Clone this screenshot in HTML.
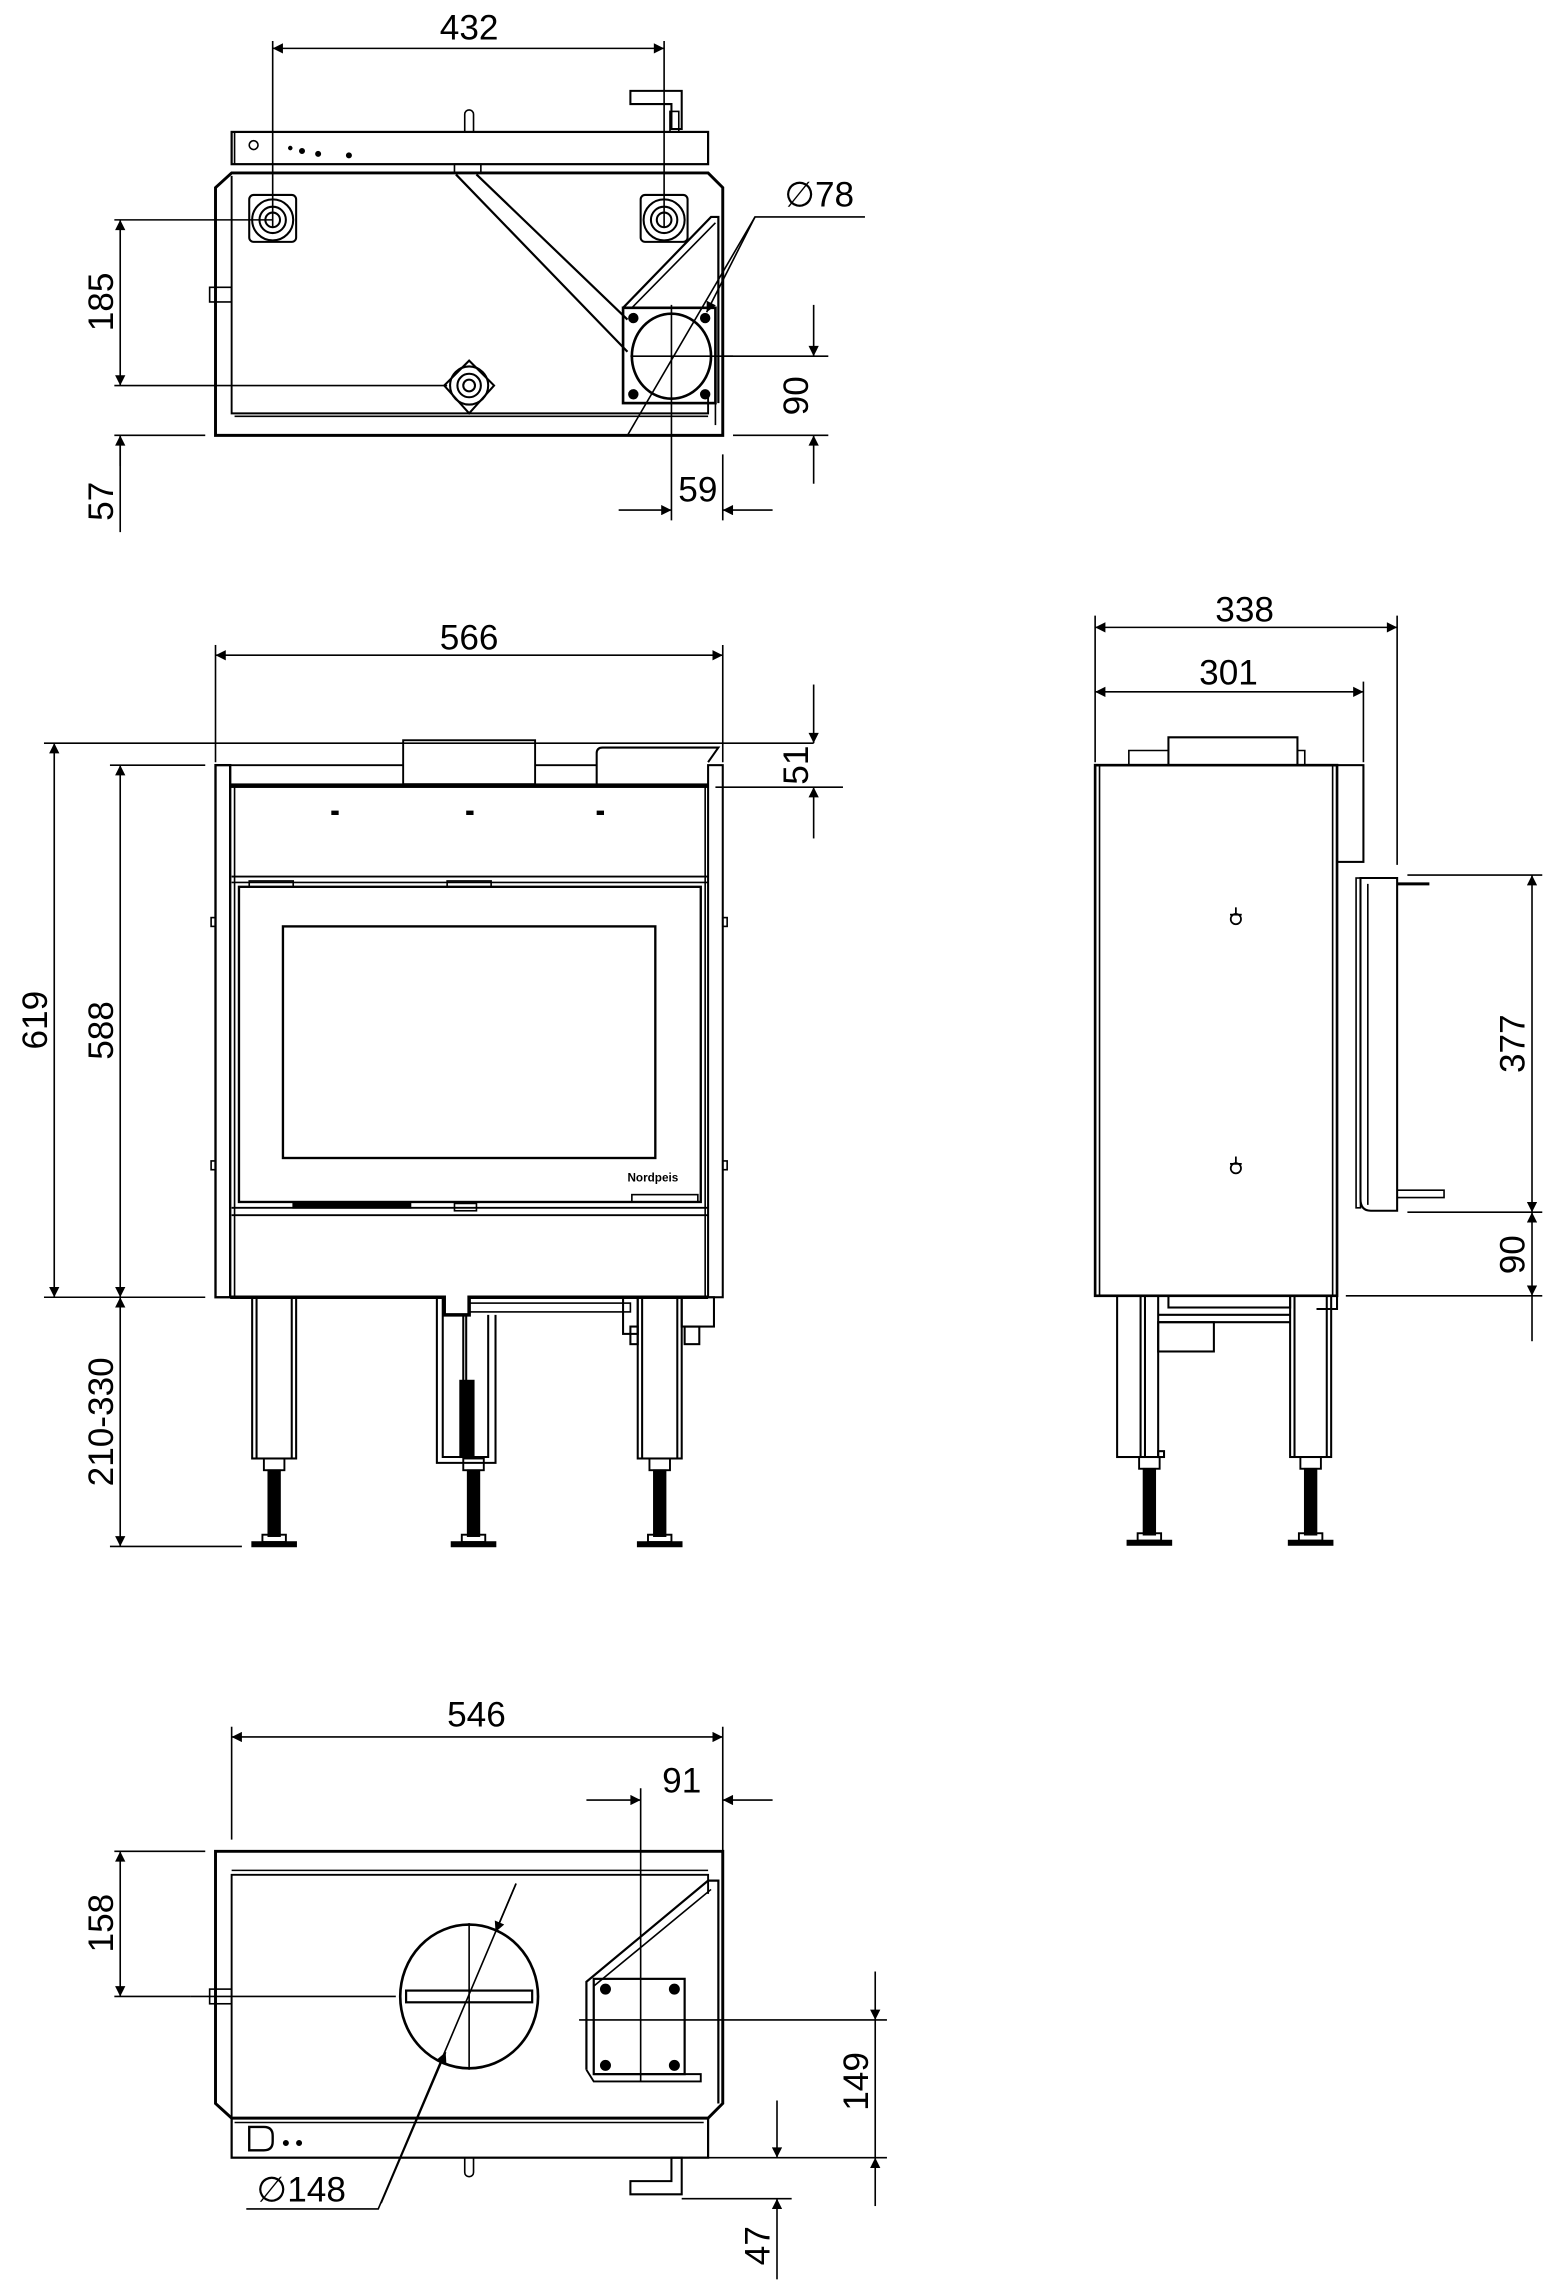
<!DOCTYPE html>
<html><head><meta charset="utf-8"><style>
html,body{margin:0;padding:0;background:#fff;}
svg{display:block;}
text{font-family:"Liberation Sans Narrow","Liberation Sans",sans-serif;font-size:24px;fill:#000;}
</style></head><body>
<svg width="1554" height="2294" viewBox="0 0 1060 1565" preserveAspectRatio="none" xmlns="http://www.w3.org/2000/svg">
<defs>
<marker id="a" viewBox="0 0 10 10" refX="10" refY="5" markerWidth="16" markerHeight="7" markerUnits="userSpaceOnUse" orient="auto-start-reverse"><path d="M0,0 L10,5 L0,10 z" fill="#000"/></marker>
</defs>
<g stroke="#000" fill="none" stroke-width="1.1">
<!-- ================= TOP VIEW ================= -->
<line x1="186" y1="28" x2="186" y2="155"/><line x1="453" y1="28" x2="453" y2="155"/>
<line x1="186" y1="33" x2="453" y2="33" marker-start="url(#a)" marker-end="url(#a)"/>
<rect x="158" y="90" width="325" height="22" stroke-width="1.5"/>
<line x1="160" y1="112" x2="160" y2="90"/>
<path d="M317,90 V78 a3,3 0 0 1 6,0 V90"/>
<path d="M430,62 H465 V88 H458 V71 H430 Z" stroke-width="1.4"/>
<rect x="457" y="76" width="6" height="14"/>
<circle cx="173" cy="99" r="3"/>
<circle cx="198" cy="101" r="1" fill="#000"/><circle cx="206" cy="103" r="1.5" fill="#000"/><circle cx="217" cy="105" r="1.5" fill="#000"/><circle cx="238" cy="106" r="1.5" fill="#000"/>
<rect x="310" y="112" width="18" height="6"/>
<path d="M147,297 V128 L158,118 H483 L493,128 V297 Z" stroke-width="2"/>
<path d="M158,120 V282 H483 V270" stroke-width="1.3"/>
<line x1="160" y1="284" x2="483" y2="284"/>
<rect x="143" y="196" width="15" height="10"/>
<g stroke-width="1.4">
<rect x="170" y="133" width="32" height="32" rx="3"/>
<circle cx="186" cy="150" r="14"/><circle cx="186" cy="150" r="9"/><circle cx="186" cy="150" r="5"/>
<rect x="437" y="133" width="32" height="32" rx="3"/>
<circle cx="453" cy="150" r="14"/><circle cx="453" cy="150" r="9"/><circle cx="453" cy="150" r="5"/>
<path d="M303,263 L320,246 L337,263 L320,282 Z"/>
<circle cx="320" cy="263" r="13"/><circle cx="320" cy="263" r="8"/><circle cx="320" cy="263" r="4"/>
</g>
<path d="M311,119 L428,240" stroke-width="1.5"/><path d="M325,119 L428,218" stroke-width="1.5"/>
<rect x="425" y="210" width="63" height="65" stroke-width="1.8"/>
<path d="M425,210 L485,148 H490 V275" stroke-width="1.5"/>
<path d="M431,210 L488,152"/>
<ellipse cx="458" cy="243" rx="27" ry="29" stroke-width="1.8"/>
<circle cx="432" cy="217" r="3" fill="#000"/><circle cx="481" cy="217" r="3" fill="#000"/><circle cx="432" cy="269" r="3" fill="#000"/><circle cx="481" cy="269" r="3" fill="#000"/>
<line x1="458" y1="208" x2="458" y2="355"/>
<line x1="430" y1="243" x2="500" y2="243"/>
<line x1="488" y1="275" x2="488" y2="290"/>
<line x1="78" y1="150" x2="186" y2="150"/><line x1="78" y1="263" x2="305" y2="263"/>
<line x1="78" y1="297" x2="140" y2="297"/>
<line x1="82" y1="150" x2="82" y2="263" marker-start="url(#a)" marker-end="url(#a)"/>
<line x1="82" y1="297" x2="82" y2="363"/><line x1="82" y1="318" x2="82" y2="297" marker-end="url(#a)"/>
<line x1="500" y1="297" x2="565" y2="297"/><line x1="492" y1="243" x2="565" y2="243"/>
<line x1="555" y1="208" x2="555" y2="243" marker-end="url(#a)"/>
<line x1="555" y1="330" x2="555" y2="297" marker-end="url(#a)"/>
<line x1="493" y1="310" x2="493" y2="355"/>
<line x1="422" y1="348" x2="458" y2="348" marker-end="url(#a)"/>
<line x1="527" y1="348" x2="493" y2="348" marker-end="url(#a)"/>
<path d="M590,148 H515 L428,297"/>
<line x1="515" y1="148" x2="482" y2="213" marker-end="url(#a)"/>
<!-- ================= FRONT VIEW ================= -->
<line x1="147" y1="440" x2="147" y2="520"/><line x1="493" y1="440" x2="493" y2="520"/>
<line x1="147" y1="447" x2="493" y2="447" marker-start="url(#a)" marker-end="url(#a)"/>
<rect x="147" y="522" width="10" height="363" stroke-width="1.6"/>
<rect x="483" y="522" width="10" height="363" stroke-width="1.4"/>
<path d="M157,885 V522 H275 M365,522 H407" stroke-width="1.3"/>
<rect x="275" y="505" width="90" height="30" stroke-width="1.3"/>
<path d="M407,535 V514 Q407,510 411,510 H490 L483,520" stroke-width="1.4"/>
<rect x="158" y="535" width="325" height="2" fill="#000"/>
<line x1="160" y1="537" x2="160" y2="885"/><line x1="481" y1="537" x2="481" y2="885"/>
<rect x="226" y="553" width="5" height="3" fill="#000" stroke="none"/><rect x="318" y="553" width="5" height="3" fill="#000" stroke="none"/><rect x="407" y="553" width="5" height="3" fill="#000" stroke="none"/>
<line x1="158" y1="598" x2="483" y2="598" stroke-width="1.3"/><line x1="158" y1="602" x2="483" y2="602"/>
<rect x="163" y="605" width="315" height="215" stroke-width="1.6"/>
<rect x="193" y="632" width="254" height="158" stroke-width="1.6"/>
<rect x="170" y="601" width="30" height="4"/><rect x="305" y="601" width="30" height="4"/>
<text x="428" y="806" stroke="none" style="font-size:8px;font-weight:bold">Nordpeis</text>
<rect x="431" y="815" width="45" height="5"/>
<line x1="158" y1="824" x2="483" y2="824" stroke-width="1.3"/><line x1="158" y1="829" x2="483" y2="829" stroke-width="1.3"/>
<rect x="200" y="821" width="80" height="3" fill="#000"/>
<rect x="310" y="821" width="15" height="5"/>
<path d="M157,885 H303 V897 H320 V885 H483" stroke-width="2.4"/>
<rect x="320" y="889" width="110" height="6"/>
<rect x="493" y="626" width="3" height="6"/><rect x="493" y="792" width="3" height="6"/>
<rect x="144" y="626" width="3" height="6"/><rect x="144" y="792" width="3" height="6"/>
<g stroke-width="1.4">
<rect x="172" y="885" width="30" height="110"/><line x1="175" y1="885" x2="175" y2="995"/><line x1="199" y1="885" x2="199" y2="995"/>
<rect x="435" y="885" width="30" height="110"/><line x1="438" y1="885" x2="438" y2="995"/><line x1="462" y1="885" x2="462" y2="995"/>
<path d="M298,885 V998 H338 V897"/><path d="M302,885 V994 H333 V897"/>
<line x1="316" y1="897" x2="316" y2="945"/><line x1="318" y1="897" x2="318" y2="945"/>
<rect x="314" y="942" width="9" height="52" fill="#000"/>
<rect x="425" y="885" width="10" height="25"/><rect x="465" y="885" width="22" height="20"/><rect x="467" y="905" width="10" height="12"/>
<rect x="430" y="905" width="5" height="12"/>
</g>
<g id="lg">
<rect x="180" y="995" width="14" height="8" stroke-width="1.3"/>
<rect x="183" y="1003" width="8" height="45" fill="#000"/>
<rect x="179" y="1047" width="16" height="5" stroke-width="1.3"/>
<rect x="172" y="1052" width="30" height="3" fill="#000"/>
</g>
<use href="#lg" x="136"/><use href="#lg" x="263"/>
<line x1="30" y1="507" x2="555" y2="507"/>
<line x1="75" y1="522" x2="140" y2="522"/>
<line x1="30" y1="885" x2="140" y2="885"/>
<line x1="37" y1="507" x2="37" y2="885" marker-start="url(#a)" marker-end="url(#a)"/>
<line x1="82" y1="522" x2="82" y2="885" marker-start="url(#a)" marker-end="url(#a)"/>
<line x1="82" y1="885" x2="82" y2="1055" marker-start="url(#a)" marker-end="url(#a)"/>
<line x1="75" y1="1055" x2="165" y2="1055"/>
<line x1="488" y1="537" x2="575" y2="537"/>
<line x1="555" y1="467" x2="555" y2="507" marker-end="url(#a)"/>
<line x1="555" y1="572" x2="555" y2="537" marker-end="url(#a)"/>
<!-- ================= SIDE VIEW ================= -->
<line x1="747" y1="420" x2="747" y2="520"/><line x1="953" y1="420" x2="953" y2="590"/><line x1="930" y1="465" x2="930" y2="520"/>
<line x1="747" y1="428" x2="953" y2="428" marker-start="url(#a)" marker-end="url(#a)"/>
<line x1="747" y1="472" x2="930" y2="472" marker-start="url(#a)" marker-end="url(#a)"/>
<rect x="747" y="522" width="165" height="362" stroke-width="1.8"/>
<line x1="750" y1="522" x2="750" y2="884"/>
<line x1="909" y1="522" x2="909" y2="884"/>
<rect x="912" y="522" width="18" height="66" stroke-width="1.4"/>
<path d="M912,588 V893 H898" stroke-width="1.4"/>
<path d="M797,522 V503 H885 V522" stroke-width="1.4"/><path d="M770,522 V512 H797"/><path d="M885,512 H890 V522"/>
<rect x="925" y="599" width="3" height="225"/>
<path d="M928,599 H953 V826 H935 Q928,826 928,818 Z" stroke-width="1.4"/>
<line x1="933" y1="603" x2="933" y2="822"/>
<line x1="953" y1="603" x2="975" y2="603" stroke-width="2"/>
<path d="M953,812 H985 V817 H953"/>
<line x1="960" y1="597" x2="1052" y2="597"/><line x1="960" y1="827" x2="1052" y2="827"/><line x1="918" y1="884" x2="1052" y2="884"/>
<line x1="1045" y1="597" x2="1045" y2="827" marker-start="url(#a)" marker-end="url(#a)"/>
<line x1="1045" y1="827" x2="1045" y2="884" marker-start="url(#a)" marker-end="url(#a)"/>
<line x1="1045" y1="884" x2="1045" y2="915"/>
<g stroke-width="1.2">
<circle cx="843" cy="627" r="3.5"/><line x1="843" y1="619" x2="843" y2="624"/><line x1="839" y1="624" x2="847" y2="624"/>
<circle cx="843" cy="797" r="3.5"/><line x1="843" y1="789" x2="843" y2="794"/><line x1="839" y1="794" x2="847" y2="794"/>
</g>
<g stroke-width="1.4">
<rect x="762" y="884" width="28" height="110"/><line x1="778" y1="884" x2="778" y2="994"/><line x1="781" y1="884" x2="781" y2="994"/>
<rect x="880" y="884" width="28" height="110"/><line x1="883" y1="884" x2="883" y2="994"/><line x1="905" y1="884" x2="905" y2="994"/>
<rect x="797" y="884" width="83" height="8"/>
<path d="M790,897 H880 M790,902 H880"/>
<rect x="790" y="902" width="38" height="20"/>
<rect x="790" y="990" width="4" height="4"/>
</g>
<use href="#lg" x="597" y="-1"/><use href="#lg" x="707" y="-1"/>
<!-- ================= BOTTOM VIEW ================= -->
<line x1="158" y1="1178" x2="158" y2="1255"/><line x1="493" y1="1178" x2="493" y2="1263"/>
<line x1="158" y1="1185" x2="493" y2="1185" marker-start="url(#a)" marker-end="url(#a)"/>
<path d="M147,1263 H493 V1435 L483,1445 H158 L147,1435 Z" stroke-width="2"/>
<path d="M158,1448 V1279 H483 V1292" stroke-width="1.3"/><line x1="158" y1="1276" x2="483" y2="1276"/>
<rect x="143" y="1357" width="15" height="10"/>
<rect x="158" y="1445" width="325" height="27" stroke-width="1.5"/>
<line x1="160" y1="1448" x2="480" y2="1448"/>
<path d="M170,1451 h10 q6,0 6,6 v4 q0,6 -6,6 h-10 z" stroke-width="1.6"/>
<circle cx="195" cy="1462" r="1.5" fill="#000"/><circle cx="204" cy="1462" r="1.5" fill="#000"/>
<path d="M317,1472 V1482 a3,3 0 0 0 6,0 V1472"/>
<path d="M430,1497 H465 V1472 H458 V1488 H430 Z" stroke-width="1.4"/>
<ellipse cx="320" cy="1362" rx="47" ry="49" stroke-width="1.8"/>
<rect x="277" y="1358" width="86" height="8" stroke-width="1.5"/>
<line x1="320" y1="1312" x2="320" y2="1412"/>
<line x1="130" y1="1362" x2="270" y2="1362"/>
<path d="M400,1412 V1352 L483,1283 H490 V1435" stroke-width="1.5"/>
<path d="M405,1412 V1355 L485,1289"/>
<path d="M400,1412 L405,1420 H478 V1415 H405" stroke-width="1.3"/>
<rect x="405" y="1350" width="62" height="65" stroke-width="1.5"/>
<circle cx="413" cy="1357" r="3.2" fill="#000"/><circle cx="460" cy="1357" r="3.2" fill="#000"/><circle cx="413" cy="1409" r="3.2" fill="#000"/><circle cx="460" cy="1409" r="3.2" fill="#000"/>
<line x1="437" y1="1220" x2="437" y2="1420"/>
<line x1="395" y1="1378" x2="605" y2="1378"/>
<line x1="400" y1="1228" x2="437" y2="1228" marker-end="url(#a)"/>
<line x1="527" y1="1228" x2="493" y2="1228" marker-end="url(#a)"/>
<line x1="78" y1="1263" x2="140" y2="1263"/><line x1="78" y1="1362" x2="130" y2="1362"/>
<line x1="82" y1="1263" x2="82" y2="1362" marker-start="url(#a)" marker-end="url(#a)"/>
<line x1="470" y1="1472" x2="605" y2="1472"/><line x1="465" y1="1500" x2="540" y2="1500"/>
<line x1="597" y1="1345" x2="597" y2="1378" marker-end="url(#a)"/>
<line x1="597" y1="1505" x2="597" y2="1472" marker-end="url(#a)"/>
<line x1="597" y1="1378" x2="597" y2="1472"/>
<line x1="530" y1="1433" x2="530" y2="1472" marker-end="url(#a)"/>
<line x1="530" y1="1555" x2="530" y2="1500" marker-end="url(#a)"/>
<path d="M168,1507 H258 L352,1285"/>
<line x1="352" y1="1285" x2="338" y2="1318" marker-end="url(#a)"/>
<line x1="260" y1="1503" x2="304" y2="1400" marker-end="url(#a)"/>
</g>
<g>
<text x="320" y="27" text-anchor="middle">432</text>
<text transform="translate(77,206) rotate(-90)" text-anchor="middle">185</text>
<text transform="translate(77,342) rotate(-90)" text-anchor="middle">57</text>
<text x="535" y="141">∅78</text>
<text transform="translate(551,270) rotate(-90)" text-anchor="middle">90</text>
<text x="476" y="342" text-anchor="middle">59</text>
<text x="320" y="443" text-anchor="middle">566</text>
<text transform="translate(32,696) rotate(-90)" text-anchor="middle">619</text>
<text transform="translate(77,703) rotate(-90)" text-anchor="middle">588</text>
<text transform="translate(77,970) rotate(-90)" text-anchor="middle">210-330</text>
<text transform="translate(551,522) rotate(-90)" text-anchor="middle">51</text>
<text x="849" y="424" text-anchor="middle">338</text>
<text x="838" y="467" text-anchor="middle">301</text>
<text transform="translate(1040,712) rotate(-90)" text-anchor="middle">377</text>
<text transform="translate(1040,856) rotate(-90)" text-anchor="middle">90</text>
<text x="325" y="1178" text-anchor="middle">546</text>
<text x="465" y="1223" text-anchor="middle">91</text>
<text transform="translate(77,1312) rotate(-90)" text-anchor="middle">158</text>
<text transform="translate(592,1420) rotate(-90)" text-anchor="middle">149</text>
<text transform="translate(525,1532) rotate(-90)" text-anchor="middle">47</text>
<text x="175" y="1502">∅148</text>
</g>
</svg>
</body></html>
